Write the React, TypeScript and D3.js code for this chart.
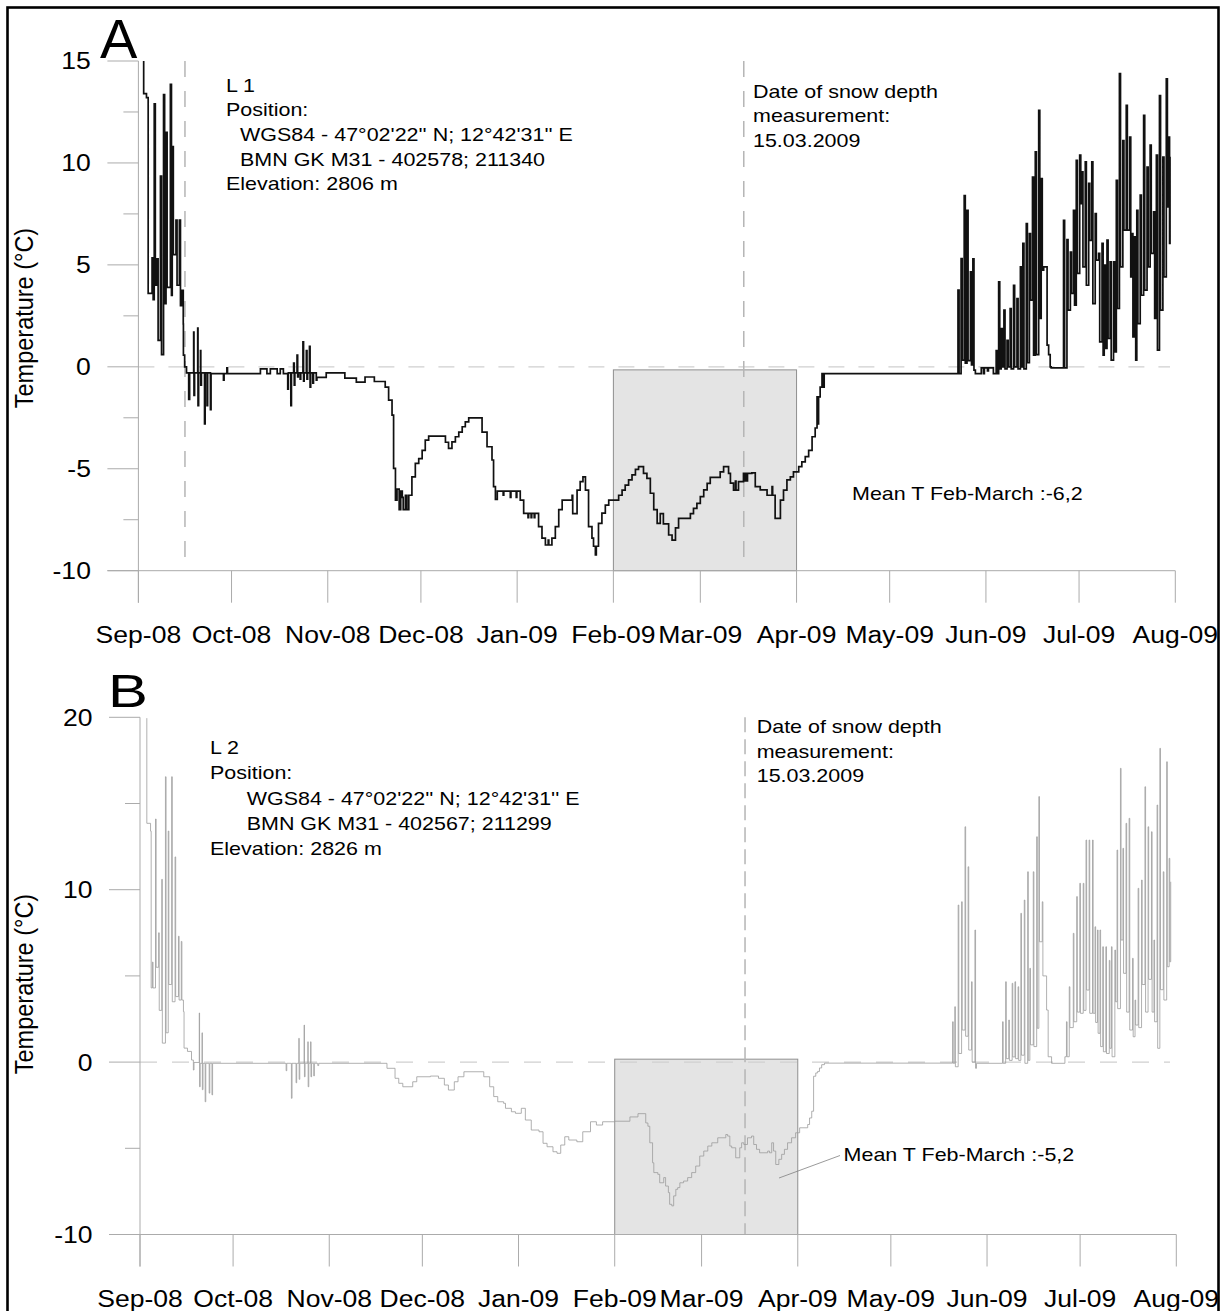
import React from 'react';
import * as d3 from 'd3';

const START = Date.UTC(2008, 8, 1);
const END = Date.UTC(2009, 7, 1);
const dayToDate = (d: number) => new Date(START + d * 864e5);

type P = [number, number];
type C = [number, number, number];

// ---------------- Panel A (L 1) : [day since 1 Sep 2008, °C] ----------------
const A_start: P[] = [[1.7, 15.0], [1.7, 13.4], [2.6, 13.2]];
const A_cyclesSep: C[] = [
  [2.8, 13.2, 3.6], [4.4, 5.35, 3.3], [5.1, 12.9, 4.0], [6.0, 5.3, 1.3], [7.1, 9.35, 0.6],
  [8.1, 13.35, 3.1], [8.9, 11.5, 3.9], [10.3, 13.85, 3.5], [10.9, 10.8, 5.5], [12.1, 7.2, 4.0],
  [13.2, 7.2, 3.0], [14.1, 3.75, 2.1],
];
const A_autumnWinter: P[] = [
  [14.5, 0.57], [14.9, 0.0], [15.5, -0.3],
  [16.2, -1.6], [16.5, -0.3], [17.8, 1.7], [17.9, -1.4], [18.1, -0.3],
  [19.1, 1.9], [19.2, -1.9], [19.4, -0.3], [20.0, 0.8], [20.1, -0.9], [20.3, -0.3],
  [21.3, -2.8], [21.5, -0.3], [22.1, -1.9], [22.3, -0.3], [23.2, -2.1], [23.4, -0.33],
  [27.4, -0.65], [27.6, -0.33], [28.5, -0.05], [28.7, -0.33],
  [39.3, -0.1], [41.4, -0.33], [42.5, -0.1], [44.7, -0.33], [45.7, -0.1], [46.7, -0.33],
  [48.1, -1.1], [48.3, -0.3], [49.1, -1.9], [49.3, -0.3], [50.0, 0.18], [50.2, -0.9], [50.4, -0.3],
  [51.1, 0.57], [51.3, -0.5], [51.5, -0.3], [52.1, -0.6], [52.3, -0.3],
  [53.0, 1.22], [53.2, -0.7], [53.4, -0.3], [54.1, 0.8], [54.3, -0.6], [54.5, -0.3],
  [55.1, 1.0], [55.3, -1.0], [55.5, -0.3], [56.2, -0.8], [56.4, -0.3], [57.3, -0.65], [57.5, -0.52],
  [60.5, -0.3], [66.5, -0.55], [70.2, -0.75], [73.0, -0.5], [76.0, -0.72], [79.5, -1.0],
  [80.6, -1.63], [81.7, -2.37], [82.2, -4.98], [82.8, -6.54],
  [83.3, -6.0], [84.0, -7.0], [84.5, -6.1], [85.0, -6.4], [85.3, -7.0], [86.0, -6.3], [86.5, -7.0],
  [87.1, -6.3], [88.1, -5.4], [89.2, -4.74], [90.3, -4.5], [91.4, -4.1], [92.4, -3.6], [93.5, -3.4],
  [98.9, -3.7], [99.9, -4.0], [101.0, -3.68], [102.1, -3.43], [103.2, -3.2], [104.3, -2.94],
  [105.3, -2.7], [106.4, -2.5],
  [110.7, -3.2], [112.3, -3.92], [113.9, -4.57], [114.4, -5.88], [115.0, -6.5],
  [115.6, -6.1], [117.5, -6.3], [117.7, -6.1], [119.8, -6.4], [120.0, -6.1], [121.7, -6.4], [121.9, -6.1],
  [123.0, -6.54], [124.1, -7.19], [125.5, -7.4], [125.7, -7.19], [126.5, -7.4], [126.7, -7.19],
  [127.5, -7.4], [127.7, -7.19],
  [128.9, -7.84], [130.0, -8.4], [131.1, -8.74], [132.0, -8.5], [132.2, -8.74], [133.2, -8.4],
  [134.3, -7.84], [135.4, -7.0], [136.5, -6.54], [139.7, -6.3], [139.9, -7.2], [141.3, -6.05],
  [142.3, -5.63], [143.2, -5.4], [144.0, -6.05], [145.0, -7.84], [146.1, -8.4], [146.6, -8.8],
  [147.2, -9.23], [147.5, -8.8], [148.2, -7.68], [149.3, -7.18], [150.4, -6.78], [151.5, -6.54],
  [154.7, -6.3], [155.8, -6.05], [156.8, -5.8], [157.9, -5.55], [159.0, -5.3], [160.1, -5.03],
  [161.1, -4.9], [162.7, -5.23], [163.8, -5.47], [164.9, -6.2], [166.0, -7.0], [167.1, -7.68],
  [168.1, -7.2], [169.1, -7.7], [170.8, -8.25], [171.9, -8.5], [173.0, -7.9], [174.0, -7.43],
  [177.8, -7.2], [178.8, -6.94], [179.9, -6.7], [181.0, -6.37], [182.1, -6.04], [183.2, -5.72],
  [184.2, -5.42], [187.4, -5.15], [188.5, -4.9], [190.1, -5.23], [190.7, -5.7], [191.7, -6.05],
  [192.3, -5.6], [192.5, -6.05], [193.3, -5.63], [194.9, -5.23], [195.3, -5.6], [195.5, -5.23],
  [196.0, -5.6], [196.2, -5.23], [197.6, -5.2], [198.7, -5.88], [200.3, -6.04], [202.5, -6.3],
  [204.1, -5.88], [204.3, -6.3], [205.1, -7.43], [206.8, -6.54], [207.8, -6.05], [208.9, -5.55],
  [210.0, -5.4], [211.0, -5.15], [212.7, -4.9], [213.7, -4.66], [214.8, -4.4], [215.9, -4.1],
  [217.0, -3.43], [218.0, -3.0], [218.6, -1.47], [218.9, -2.8], [219.1, -1.47], [219.6, -1.0],
  [220.2, -0.33], [220.7, -1.0], [220.9, -0.33],
];
const A_cyclesJun1: C[] = [
  [264.0, 3.76, -0.33], [265.0, 5.31, 0.33], [266.0, 8.4, 0.18], [266.9, 7.68, 0.3],
  [268.0, 4.66, 0.1], [268.8, 5.3, -0.16],
];
const A_juneLow: P[] = [
  [269.6, -0.33], [271.5, -0.05], [272.2, -0.33], [272.5, -0.05], [273.5, -0.2], [273.8, -0.05], [275.4, -0.33],
];
const A_cyclesJun2: C[] = [
  [276.3, 0.8, -0.33], [277.1, 4.17, -0.1], [277.9, 1.88, 0.0], [278.8, 2.78, -0.1], [279.8, 1.3, 0.0],
  [280.8, 2.86, -0.1], [281.9, 4.0, 0.0], [283.0, 3.35, -0.1], [284.1, 4.9, 0.0], [284.9, 6.05, -0.1],
  [286.0, 7.03, 0.2], [287.0, 6.54, 3.27], [288.0, 9.31, 0.57], [288.9, 10.54, 0.6], [290.0, 12.58, 2.37],
  [290.8, 9.23, 4.74],
];
const A_julyDip: P[] = [[291.6, 4.9], [292.7, 1.06], [293.2, 0.6], [293.7, 0.0], [294.0, -0.05]];
const A_cyclesJul: C[] = [
  [298.0, 7.19, -0.05], [299.1, 6.24, 2.78], [300.2, 5.63, 3.6], [301.2, 7.68, 3.02], [302.1, 10.13, 4.58],
  [303.2, 10.38, 8.0], [303.9, 9.56, 4.9], [305.0, 10.05, 4.0], [306.1, 9.0, 6.2], [307.1, 10.05, 3.1],
  [308.2, 7.52, 5.23], [309.3, 5.56, 1.22], [310.4, 6.05, 0.57], [311.1, 4.99, 0.9], [312.0, 6.21, 1.39],
  [313.0, 5.15, 0.33], [314.1, 5.15, 0.73], [315.0, 9.15, 2.86], [316.0, 14.38, 4.9], [317.1, 11.1, 6.7],
  [318.2, 12.83, 6.7], [319.3, 11.27, 4.41], [320.0, 6.54, 1.47], [320.9, 6.37, 0.33], [321.6, 7.68, 2.12],
  [322.7, 8.42, 3.51], [323.8, 12.34, 3.76], [324.9, 9.8, 4.9], [325.9, 10.87, 5.56], [327.0, 7.6, 2.37],
  [327.9, 10.38, 0.82], [328.9, 13.3, 2.78], [330.0, 10.29, 4.41], [331.1, 14.13, 7.84], [331.8, 11.27, 6.05],
];
const A_end: P[] = [[332.3, 10.3]];

// ---------------- Panel B (L 2) ----------------
const B_start: P[] = [[2.2, 19.95], [2.2, 13.85], [3.4, 13.4], [3.6, 4.3]];
const B_cyclesSep: C[] = [
  [4.0, 5.8, 4.3], [5.0, 14.1, 5.5], [6.0, 7.5, 3.0], [7.0, 10.6, 1.1], [8.2, 16.55, 1.7],
  [9.1, 13.4, 4.5], [10.2, 16.55, 3.5], [11.3, 11.9, 3.8], [12.4, 7.3, 3.6], [13.3, 7.0, 3.6],
];
const B_autumnWinter: P[] = [
  [14.0, 2.93], [14.2, 0.81], [15.3, 0.62], [16.6, 0.12], [17.2, -0.46], [17.4, -0.02],
  [19.1, 2.85], [19.2, -1.43], [19.4, -0.07], [20.0, 1.7], [20.1, -1.6], [20.3, -0.07],
  [21.0, -2.3], [21.2, -0.07], [22.3, -1.8], [22.5, -0.07], [23.2, -1.9], [23.4, -0.07],
  [47.1, -0.5], [47.3, -0.07], [48.8, -2.1], [49.0, -0.07], [50.3, -1.2], [50.5, -0.07],
  [51.2, 1.38], [51.3, -1.0], [51.5, -0.07], [52.9, 2.15], [53.0, -0.85], [53.2, -0.07],
  [54.1, 1.18], [54.2, -1.43], [54.4, -0.07], [55.0, 1.18], [55.1, -0.85], [55.3, -0.07],
  [56.0, -0.8], [56.2, -0.07], [57.3, -0.2], [57.6, -0.07],
  [79.6, -0.36], [82.2, -0.94], [83.4, -1.23], [84.7, -1.43], [87.9, -1.14], [89.2, -0.85],
  [93.6, -0.81], [96.2, -0.94], [98.1, -1.33], [99.4, -1.62], [101.3, -1.14], [102.5, -0.85],
  [104.4, -0.56], [110.8, -0.85], [112.7, -1.43], [114.0, -2.0], [115.3, -2.3], [117.2, -2.39],
  [117.8, -2.68], [119.7, -2.88], [121.0, -2.97], [122.9, -2.68], [124.2, -3.36], [126.1, -3.94],
  [128.6, -4.04], [129.9, -4.71], [131.2, -4.91], [133.1, -5.2], [134.4, -5.29], [135.6, -4.81],
  [136.9, -4.33], [138.2, -4.52], [140.8, -4.62], [142.7, -4.04], [145.2, -3.46], [147.1, -3.65],
  [149.1, -3.46], [153.0, -3.43], [157.9, -3.18], [160.5, -2.99], [163.0, -3.53], [163.7, -3.72],
  [164.3, -4.68], [165.2, -5.84], [165.6, -6.41], [166.9, -6.51], [167.5, -7.0], [168.8, -6.7],
  [169.4, -7.19], [170.3, -7.57], [170.7, -8.25], [171.4, -8.34], [172.0, -7.76], [172.7, -7.38],
  [173.3, -7.28], [174.0, -7.0], [175.2, -6.9], [176.5, -6.7], [177.8, -6.41], [179.1, -6.03],
  [180.4, -5.45], [181.7, -5.16], [183.0, -4.87], [184.3, -4.68], [186.2, -4.39], [188.8, -4.2],
  [189.4, -4.29], [190.1, -4.87], [190.7, -4.97], [192.0, -5.55], [193.3, -4.97], [193.9, -4.68],
  [194.6, -4.78], [195.8, -4.39], [197.1, -4.29], [197.8, -4.78], [198.7, -5.06], [199.7, -5.26],
  [202.3, -5.16], [202.9, -5.26], [203.6, -4.68], [204.2, -5.16], [204.9, -5.94], [205.9, -5.64],
  [206.8, -5.35], [207.7, -5.06], [208.7, -4.68], [210.0, -4.39], [211.3, -4.1], [212.6, -3.81],
  [215.2, -3.62], [215.8, -3.24], [216.5, -2.85], [217.1, -0.82], [217.8, -0.63], [218.4, -0.54],
  [219.0, -0.34], [219.7, -0.15], [220.6, -0.06],
];
const B_cyclesJun1: C[] = [
  [261.9, 2.34, -0.07], [262.6, 3.21, -0.27], [263.7, 9.11, 0.5], [264.8, 9.3, 1.86],
  [265.9, 13.65, 1.5], [266.9, 11.33, 0.7], [268.0, 4.66, 0.0], [269.1, 7.66, -0.36],
];
const B_juneLow: P[] = [[269.6, -0.07]];
const B_cyclesJun2: C[] = [
  [278.0, 2.34, -0.07], [279.0, 4.66, 0.2], [280.0, 2.44, 0.1], [281.1, 4.57, 0.3], [282.0, 4.66, 0.2],
  [283.0, 4.37, 0.1], [283.9, 8.63, 0.4], [285.0, 9.4, -0.07], [286.1, 11.04, 0.1], [286.8, 5.44, 1.0],
  [287.9, 11.04, 0.9], [289.0, 13.07, 1.96], [289.7, 15.4, 6.98], [290.8, 9.3, 5.0],
];
const B_julyDip: P[] = [[292.2, 3.02], [292.7, 0.31], [293.8, -0.07], [298.1, 0.31]];
const B_cyclesJul: C[] = [
  [298.6, 2.34, 0.31], [299.5, 4.37, 2.0], [300.8, 7.47, 2.34], [301.9, 9.6, 2.9], [302.9, 10.37, 2.83],
  [304.0, 10.37, 3.0], [304.9, 12.88, 4.18], [305.9, 12.88, 2.83], [307.0, 12.88, 2.83], [307.8, 7.85, 2.3],
  [308.6, 7.66, 1.67], [309.4, 7.66, 0.9], [310.3, 6.69, 0.6], [311.3, 6.69, 0.5], [312.4, 5.9, 0.8],
  [313.1, 6.69, 0.31], [314.2, 6.5, 3.5], [314.9, 12.3, 3.1], [316.0, 17.04, 7.08], [316.8, 12.4, 5.15],
  [317.8, 13.85, 2.9], [318.8, 14.14, 1.86], [319.9, 6.02, 1.47], [320.7, 3.6, 2.15], [321.7, 10.08, 2.0],
  [322.8, 10.56, 4.5], [323.9, 15.97, 2.9], [324.9, 13.65, 4.8], [326.0, 13.36, 2.9], [326.8, 7.08, 2.34],
  [327.8, 14.91, 0.8], [328.7, 18.2, 4.2], [329.8, 11.04, 3.6], [330.9, 17.42, 5.53], [331.7, 11.82, 5.82],
];
const B_end: P[] = [[332.2, 10.46]];

// ---------------- ticks / labels ----------------
const A_yMajor = [15, 10, 5, 0, -5, -10];
const A_yMinor = [12.5, 7.5, 2.5, -2.5, -7.5];
const B_yMajor = [20, 10, 0, -10];
const B_yMinor = [15, 5, -5];

const A_info = ['L 1', 'Position:', "WGS84 - 47°02'22'' N; 12°42'31'' E", "BMN GK M31 - 402578; 211340", 'Elevation: 2806 m'];
const B_info = ['L 2', 'Position:', "WGS84 - 47°02'22'' N;  12°42'31'' E", "BMN GK M31 - 402567; 211299", 'Elevation: 2826 m'];
const snowText = ['Date of snow depth', 'measurement:', '15.03.2009'];
const A_mean = 'Mean T Feb-March :-6,2';
const B_mean = 'Mean T Feb-March :-5,2';
const SNOW_DAY = 195; // 15 Mar 2009
const A_EARLY_DAY = 15; // 16 Sep 2008

const expand = (c: C[], w: number): P[] => c.flatMap(([d, mx, mn]) => [[d, mx], [d + w, mn]] as P[]);

const seriesA: P[] = [
  ...A_start, ...expand(A_cyclesSep, 0.35), ...A_autumnWinter, ...expand(A_cyclesJun1, 0.35), ...A_juneLow,
  ...expand(A_cyclesJun2, 0.35), ...A_julyDip, ...expand(A_cyclesJul, 0.35), ...A_end,
];
const seriesB: P[] = [
  ...B_start, ...expand(B_cyclesSep, 0.2), ...B_autumnWinter, ...expand(B_cyclesJun1, 0.2), ...B_juneLow,
  ...expand(B_cyclesJun2, 0.2), ...B_julyDip, ...expand(B_cyclesJul, 0.2), ...B_end,
];

const FONT = "'Liberation Sans', Arial, Helvetica, sans-serif";
const SX = 1.13;
const AXC = '#ababab';

function Txt(props: { x: number; y: number; size: number; children: any; anchor?: string; sx?: number }) {
  const { x, y, size, children, anchor = 'start', sx = SX } = props;
  return (
    <text transform={`translate(${x},${y}) scale(${sx},1)`} fontSize={size} textAnchor={anchor as any} fontFamily={FONT} fill="#000">
      {children}
    </text>
  );
}

function Panel(props: {
  x0: number; x1: number; yTop: number; yBot: number; yMin: number; yMax: number;
  majors: number[]; minors: number[]; data: P[]; lineColor: string; lineWidth: number;
  rectTop: number; vDash: string; hDash: string; dashDays: number[]; dashTopVal: number;
}) {
  const p = props;
  const x = d3.scaleUtc().domain([new Date(START), new Date(END)]).range([p.x0, p.x1]);
  const y = d3.scaleLinear().domain([p.yMin, p.yMax]).range([p.yBot, p.yTop]);
  const months = d3.utcMonth.range(new Date(START), new Date(END + 1));
  const fmt = d3.utcFormat('%b-%y');
  const line = d3.line<P>().x(d => x(dayToDate(d[0]))).y(d => y(d[1])).curve(d3.curveStepAfter);
  const axisY = y(p.yMin);
  const tickBot = axisY + 32;
  const feb = x(new Date(Date.UTC(2009, 1, 1)));
  const apr = x(new Date(Date.UTC(2009, 3, 1)));
  return (
    <g>
      <rect x={feb} y={y(p.rectTop)} width={apr - feb} height={axisY - y(p.rectTop)} fill="#e4e4e4" stroke="#8f8f8f" strokeWidth={1} />
      <line x1={p.x0} x2={1170} y1={y(0)} y2={y(0)} stroke="#cfcfcf" strokeWidth={1.2} strokeDasharray={p.hDash} />
      {p.dashDays.map(d => (
        <line key={d} x1={x(dayToDate(d))} x2={x(dayToDate(d))} y1={y(p.dashTopVal)} y2={axisY} stroke="#b5b5b5" strokeWidth={1.5} strokeDasharray={p.vDash} />
      ))}
      <line x1={p.x0} x2={p.x0} y1={y(p.yMax)} y2={tickBot} stroke={AXC} strokeWidth={1} />
      {p.majors.map(v => (
        <g key={'M' + v}>
          <line x1={p.x0 - 31} x2={p.x0} y1={y(v)} y2={y(v)} stroke={AXC} strokeWidth={1} />
          <Txt x={p.x0 - 47.5} y={y(v) + 8.4} size={23.5} anchor="end">{String(v)}</Txt>
        </g>
      ))}
      {p.minors.map(v => (
        <line key={'m' + v} x1={p.x0 - 15} x2={p.x0} y1={y(v)} y2={y(v)} stroke={AXC} strokeWidth={1} />
      ))}
      <line x1={p.x0 - 31} x2={x(new Date(END))} y1={axisY} y2={axisY} stroke={AXC} strokeWidth={1} />
      {months.map(m => (
        <g key={m.getTime()}>
          <line x1={x(m)} x2={x(m)} y1={axisY} y2={tickBot} stroke={AXC} strokeWidth={1} />
          <Txt x={x(m)} y={axisY + 72} size={23.5} anchor="middle">{fmt(m)}</Txt>
        </g>
      ))}
      <path d={line(p.data) || ''} fill="none" stroke={p.lineColor} strokeWidth={p.lineWidth} strokeLinejoin="miter" />
    </g>
  );
}

export default function App() {
  return (
    <div style={{ position: 'absolute', left: 0, top: 0 }}>
      <svg width={1226} height={1311} viewBox="0 0 1226 1311" style={{ display: 'block', background: '#fff' }}>
        <rect x={0} y={0} width={1226} height={1311} fill="#fff" />
        <Panel x0={138.4} x1={1175.3} yTop={61} yBot={570.7} yMin={-10} yMax={15}
          majors={A_yMajor} minors={A_yMinor} data={seriesA} lineColor="#111" lineWidth={1.7}
          rectTop={-0.15} vDash="16 14" hDash="16 14" dashDays={[A_EARLY_DAY, SNOW_DAY]} dashTopVal={15} />
        <Panel x0={140} x1={1176.3} yTop={717.3} yBot={1234.5} yMin={-10} yMax={20}
          majors={B_yMajor} minors={B_yMinor} data={seriesB} lineColor="#9c9c9c" lineWidth={0.8}
          rectTop={0.17} vDash="15 7" hDash="17 15" dashDays={[SNOW_DAY]} dashTopVal={20} />

        <text x={100} y={58.3} fontSize={56} fontFamily={FONT}>A</text>
        <text transform="translate(108,706.7) scale(1.3,1)" fontSize={46} fontFamily={FONT}>B</text>

        <text transform="translate(32.5,318) scale(1.13,1) rotate(-90)" fontSize={23.5} fontFamily={FONT} textAnchor="middle">Temperature (°C)</text>
        <text transform="translate(32.5,984) scale(1.13,1) rotate(-90)" fontSize={23.5} fontFamily={FONT} textAnchor="middle">Temperature (°C)</text>

        {A_info.map((t, i) => (
          <Txt key={'a' + i} x={i === 2 || i === 3 ? 240 : 226} y={91.7 + i * 24.6} size={19}>{t}</Txt>
        ))}
        {snowText.map((t, i) => (
          <Txt key={'sa' + i} x={753} y={98.3 + i * 24.1} size={19}>{t}</Txt>
        ))}
        <Txt x={852} y={500} size={19}>{A_mean}</Txt>

        {B_info.map((t, i) => (
          <Txt key={'b' + i} x={i === 2 || i === 3 ? 246.7 : 210} y={754.3 + i * 25.1} size={19}>{t}</Txt>
        ))}
        {snowText.map((t, i) => (
          <Txt key={'sb' + i} x={756.7} y={733.3 + i * 24.2} size={19}>{t}</Txt>
        ))}
        <line x1={779} y1={1178} x2={840} y2={1155.5} stroke="#808080" strokeWidth={0.8} />
        <Txt x={843.6} y={1161} size={19}>{B_mean}</Txt>

        <rect x={7.5} y={7.5} width={1211} height={1330} fill="none" stroke="#000" strokeWidth={2.6} />
      </svg>
    </div>
  );
}
